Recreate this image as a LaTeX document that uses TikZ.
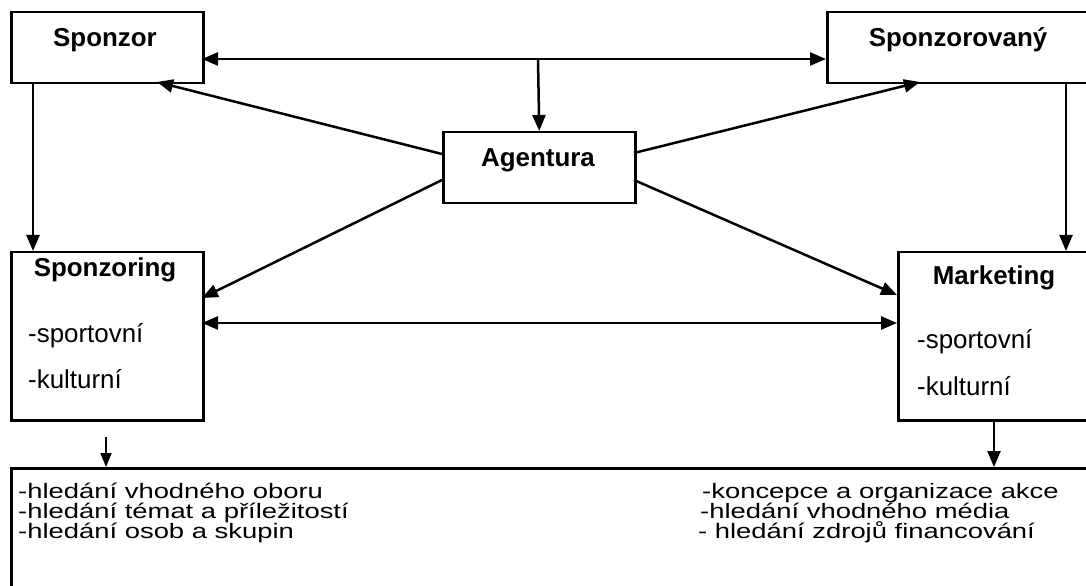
\documentclass[tikz,border=0pt]{standalone}
\usepackage{fontspec}
\usepackage{graphicx}
\setmainfont{Liberation Sans}
\usetikzlibrary{arrows.meta}
\tikzset{
  box/.style={draw, line width=2.5bp, inner sep=0pt, anchor=north west},
  arr/.style={line width=2.5bp, -{Triangle[length=16bp,width=13bp]}},
  dblarr/.style={line width=2.5bp, {Triangle[length=16bp,width=13bp]}-{Triangle[length=16bp,width=13bp]}},
  thinarr/.style={line width=1.6bp, -{Triangle[length=14bp,width=11bp]}},
  title/.style={font=\fontsize{26}{30}\selectfont\bfseries, anchor=base, inner sep=0pt},
  body/.style={font=\fontsize{26}{30}\selectfont, anchor=base west, inner sep=0pt},
  small/.style={font=\fontsize{21}{24}\selectfont, anchor=base west, inner sep=0pt}
}
\newcommand{\wide}[1]{\scalebox{1.31}[1]{#1}}
\begin{document}
\begin{tikzpicture}[x=1bp,y=-1bp]
\useasboundingbox (0,0) rectangle (1086,586);
\clip (0,0) rectangle (1086,586);
% boxes
\node[box, minimum width=192bp, minimum height=71bp] (sponzor) at (10,11) {};
\node[box, minimum width=290bp, minimum height=71bp] (sponzored) at (826,11) {};
\node[box, minimum width=192bp, minimum height=71bp] (agentura) at (442,131) {};
\node[box, minimum width=192bp, minimum height=168bp] (sponzoring) at (10,251) {};
\node[box, minimum width=220bp, minimum height=168bp] (marketing) at (897,251) {};
\node[box, minimum width=1120bp, minimum height=160bp] (bottom) at (10,467) {};
% titles
\node[title] (t1) at (105,47) {Sponzor};
\node[title] (t2) at (958,47) {Sponzorovaný};
\node[title] (t3) at (538,167) {Agentura};
\node[title] (t4) at (105,277) {Sponzoring};
\node[title] (t5) at (994,285) {Marketing};
\node[body] (s1) at (28,342) {-sportovní};
\node[body] (k1) at (28,388) {-kulturní};
\node[body] (s2) at (917,348) {-sportovní};
\node[body] (k2) at (917,395) {-kulturní};
% bottom texts
\node[small] (b1) at (18,498) {\wide{-hledání vhodného oboru}};
\node[small] (b2) at (18,518) {\wide{-hledání témat a příležitostí}};
\node[small] (b3) at (18,538) {\wide{-hledání osob a skupin}};
\node[small] (b4) at (702,498) {\wide{-koncepce a organizace akce}};
\node[small] (b5) at (700,518) {\wide{-hledání vhodného média}};
\node[small] (b6) at (698,538) {\wide{- hledání zdrojů financování}};
% connector points
\coordinate (hm) at (538,59);
\coordinate (hl) at (202,59);
\coordinate (hr) at (826,59);
\coordinate (aw1) at (442,154);
\coordinate (aw2) at (442,180);
\coordinate (ae1) at (634,153);
\coordinate (ae2) at (634,180);
\coordinate (sz) at (157,82);
\coordinate (sd) at (920,82);
\coordinate (sg) at (202,298);
\coordinate (mk) at (897,295);
\coordinate (ml) at (202,323);
\coordinate (mr) at (897,323);
\coordinate (v1a) at (33,82);
\coordinate (v1b) at (33,251);
\coordinate (v2a) at (1066,82);
\coordinate (v2b) at (1066,251);
\coordinate (v3a) at (994,419);
\coordinate (v3b) at (994,467);
\coordinate (v4a) at (106,437);
\coordinate (v4b) at (106,467);
% connectors
\draw[dblarr] (hl) -- (hr);
\draw[arr] (hm) -- (agentura.north);
\draw[arr] (aw1) -- (sz);
\draw[arr] (ae1) -- (sd);
\draw[arr] (aw2) -- (sg);
\draw[arr] (ae2) -- (mk);
\draw[dblarr] (ml) -- (mr);
\draw[arr] (v1a) -- (v1b);
\draw[arr] (v2a) -- (v2b);
\draw[arr] (v3a) -- (v3b);
\draw[thinarr] (v4a) -- (v4b);
\end{tikzpicture}
\end{document}
